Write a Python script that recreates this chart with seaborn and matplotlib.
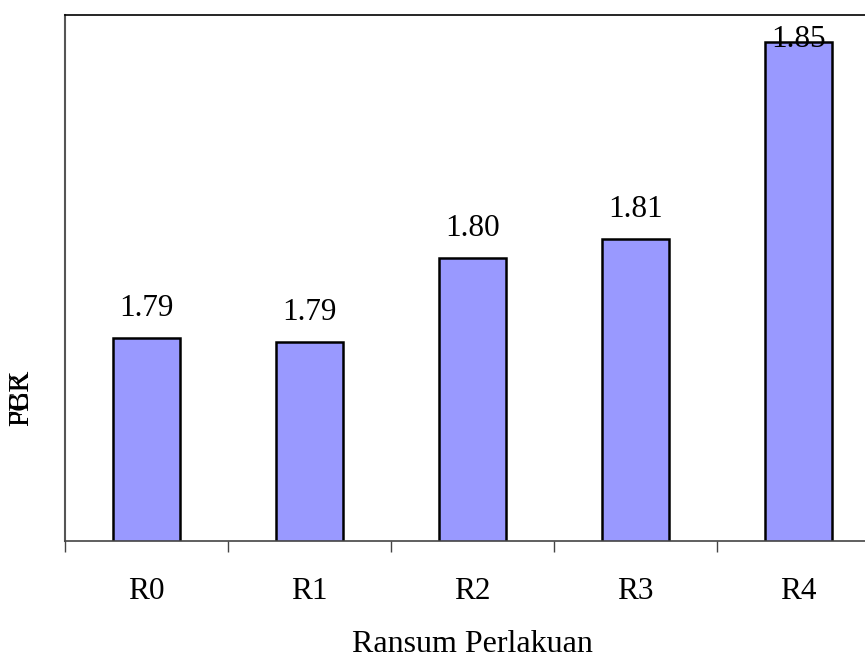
import matplotlib
matplotlib.use("Agg")
import matplotlib.pyplot as plt
import seaborn as sns
import pandas as pd
import numpy as np

categories = ["R0", "R1", "R2", "R3", "R4"]
values = [1.7863, 1.7854, 1.8046, 1.8089, 1.8538]
x_label = "Ransum Perlakuan"
y_labels = ["PBK", "FCR"]

sns.set_style("white")
plt.rcParams['font.family'] = ['Liberation Serif', 'DejaVu Serif']
plt.rcParams['text.color'] = 'black'
plt.rcParams['axes.labelcolor'] = 'black'
plt.rcParams['xtick.labelcolor'] = 'black'

df = pd.DataFrame({"cat": categories, "val": values})

fig = plt.figure(figsize=(8.65, 6.58), dpi=100)
ax = fig.add_axes([65/865, (658-541)/658, 815/865, 526/658])

sns.barplot(data=df, x="cat", y="val", color="#9999FF", saturation=1,
            width=0.405, edgecolor="black", linewidth=1.8, ax=ax)

ymin, ymax = 1.74, 1.86
ax.set_ylim(ymin, ymax)
ax.set_xlim(-0.5, 4.5)

px = (ymax - ymin) / 526.0
for i, v in enumerate(values):
    y = min(v + 22 * px, ymax - 32 * px)
    ax.text(i, y, f"{v:.2f}", ha="center", va="baseline", fontsize=22.5, color="black")

ax.set_yticks([])
ax.set_xticks(range(len(categories)))
ax.set_xticklabels(categories, fontsize=22.5)
ax.set_xticks(np.arange(-0.5, 5, 1), minor=True)
ax.tick_params(axis="x", which="major", length=0, pad=26)
ax.tick_params(axis="x", which="minor", length=8, width=1, color="#444444", direction="out", bottom=True)

ax.set_xlabel(x_label, fontsize=23, labelpad=17)
ax.set_ylabel("")
for t in y_labels:
    fig.text(21/865, 1 - 398/658, t, rotation=90, fontsize=21, ha="center", va="center")

for s in ["left", "top", "bottom", "right"]:
    ax.spines[s].set_visible(True)
    ax.spines[s].set_color("black")
ax.spines["left"].set_color("#555555")
ax.spines["bottom"].set_color("#444444")
ax.spines["left"].set_linewidth(1.5)
ax.spines["top"].set_linewidth(1.2)
ax.spines["bottom"].set_linewidth(1.2)

fig.savefig("out.png", dpi=100)
